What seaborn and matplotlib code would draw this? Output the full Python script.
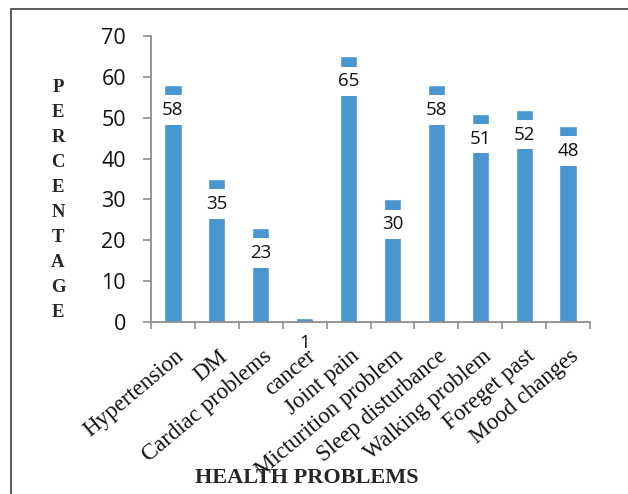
import matplotlib
matplotlib.use("Agg")
import matplotlib.pyplot as plt
import seaborn as sns
import numpy as np
import pandas as pd
from matplotlib.lines import Line2D
from matplotlib.transforms import ScaledTranslation

categories = ["Hypertension", "DM", "Cardiac problems", "cancer", "Joint pain",
              "Micturition problem", "Sleep disturbance", "Walking problem",
              "Foreget past", "Mood changes"]
values = [58, 35, 23, 1, 65, 30, 58, 51, 52, 48]
y_ticks = [0, 10, 20, 30, 40, 50, 60, 70]
y_label = "PERCENTAGE"
x_label = "HEALTH PROBLEMS"

df = pd.DataFrame({"cat": categories, "val": values})

sns.set_theme(style="white")
W, H = 628, 494
fig = plt.figure(figsize=(W / 100, H / 100), dpi=100)
ax = fig.add_axes([151 / W, 1 - 322 / H, (590 - 151) / W, (322 - 36) / H])

bar_color = "#4A96D1"
sns.barplot(data=df, x="cat", y="val", color=bar_color, width=0.39,
            saturation=1, ax=ax, zorder=1)

ax.set_axisbelow(False)
ax.set_xlim(-0.5, len(categories) - 0.5)
ax.set_ylim(0, 70)
ax.set_yticks(y_ticks)
ax.set_yticklabels([str(t) for t in y_ticks], fontfamily="Open Sans", fontsize=15.5,
                   color="#111111")
ax.set_xticks(np.arange(len(categories) + 1) - 0.5, labels=[""] * (len(categories) + 1))
ax.set_xticks(np.arange(len(categories)), minor=True)
ax.set_xticklabels(categories, minor=True, rotation=40, ha="right", va="top",
                   rotation_mode="anchor", fontfamily="Liberation Serif",
                   fontsize=16.5, color="#111111")
ax.tick_params(axis="x", which="minor", length=0, pad=17)
ax.tick_params(axis="x", which="major", length=5, width=1.2, color="#8C8C8C",
               direction="out", bottom=True)
ax.tick_params(axis="y", length=6, width=1.2, color="#8C8C8C", direction="out",
               left=True, pad=12)
for lab in ax.get_xticklabels(minor=True):
    lab.set_transform(lab.get_transform() + ScaledTranslation(1 / 72, 0, fig.dpi_scale_trans))

for s in ["top", "right"]:
    ax.spines[s].set_visible(False)
for s in ["left", "bottom"]:
    ax.spines[s].set_color("#8C8C8C")
    ax.spines[s].set_linewidth(1.3)
    ax.spines[s].set_zorder(3)
ax.set_xlabel("")
ax.set_ylabel("")
ax.grid(False)

for i, v in enumerate(values):
    ax.annotate(str(v), xy=(i, v), xytext=(0, -18), textcoords="offset points",
                ha="center", va="center", fontsize=13.5, fontfamily="Open Sans",
                color="#111111", zorder=2, annotation_clip=False,
                bbox=dict(boxstyle="square,pad=0.3", fc="white", ec="none"))

# vertical stacked y label
for k, ch in enumerate(y_label):
    fig.text(58 / W, 1 - (87 + k * 25.1) / H, ch, ha="center", va="center",
             fontfamily="Liberation Serif", fontweight="bold", fontsize=13.5)

fig.text(307 / W, 1 - 478 / H, x_label, ha="center", va="center",
         fontfamily="Liberation Serif", fontweight="bold", fontsize=16)

# outer frame (left and top edges visible)
fig.add_artist(Line2D([11 / W, 11 / W, 1.01], [-0.01, 1 - 9 / H, 1 - 9 / H],
                      transform=fig.transFigure, color="#4D4D4D", lw=1.3))

fig.savefig("out.png", dpi=100)
